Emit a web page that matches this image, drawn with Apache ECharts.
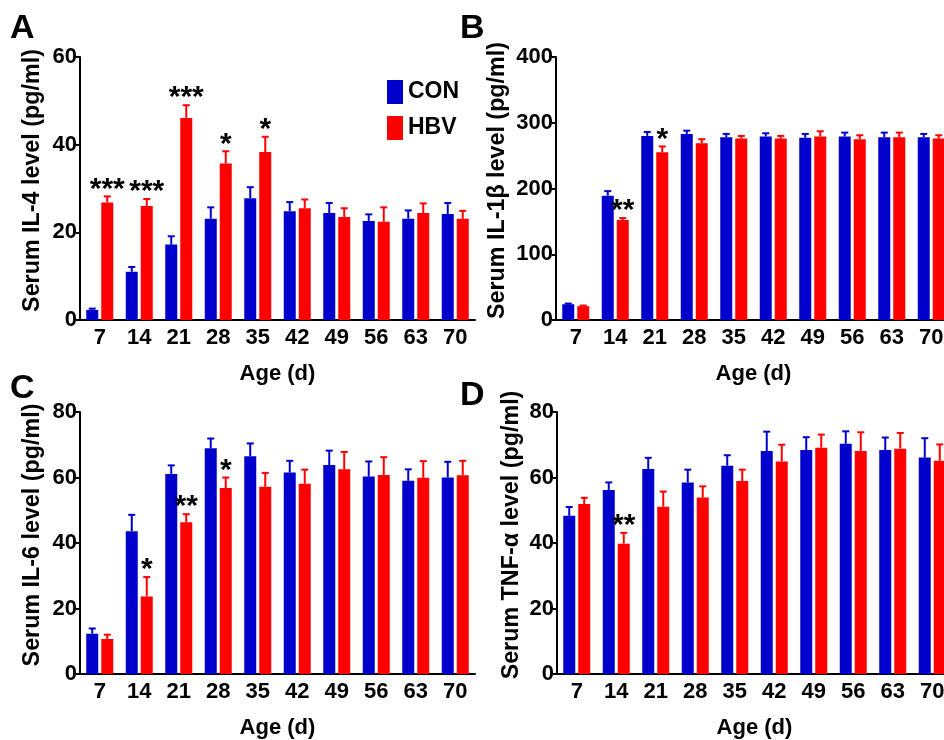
<!DOCTYPE html>
<html>
<head>
<meta charset="utf-8">
<title>Serum cytokines</title>
<script src="https://cdn.jsdelivr.net/npm/echarts@6/dist/echarts.min.js"></script>
<style>
  html, body { margin: 0; padding: 0; background: #fff; }
  #chart { width: 944px; height: 740px; }
</style>
</head>
<body>
<div id="chart"></div>
<script>
  // ages in days
  const ages = ['7', '14', '21', '28', '35', '42', '49', '56', '63', '70']

  // A: IL-4
  const il4Con = [2.3, 11.0, 17.2, 23.1, 27.8, 24.8, 24.4, 22.6, 23.1, 24.2]
  const il4ConSem = [0.3, 1.1, 1.9, 2.6, 2.5, 2.1, 2.3, 1.5, 1.9, 2.5]
  const il4Hbv = [26.8, 26.0, 46.1, 35.7, 38.3, 25.5, 23.5, 22.4, 24.4, 23.1]
  const il4HbvSem = [1.4, 1.6, 2.9, 2.8, 3.5, 2.0, 2.0, 3.3, 2.2, 1.8]
  const il4Sig = ['***', '***', '***', '*', '*', '', '', '', '', '']

  // B: IL-1beta
  const il1bCon = [24, 189, 280, 283, 278, 279, 277, 279, 278, 278]
  const il1bConSem = [1, 7, 6, 5, 5, 5, 6, 6, 7, 5]
  const il1bHbv = [21, 152, 255, 269, 276, 276, 279, 275, 278, 276]
  const il1bHbvSem = [1, 3, 9, 6, 4, 4, 8, 6, 7, 5]
  const il1bSig = ['', '**', '*', '', '', '', '', '', '', '']

  // C: IL-6
  const il6Con = [12.3, 43.6, 61.1, 68.9, 66.5, 61.5, 63.8, 60.3, 59.0, 60.0]
  const il6ConSem = [1.6, 5.0, 2.6, 3.0, 3.9, 3.6, 4.4, 4.6, 3.5, 4.8]
  const il6Hbv = [10.7, 23.7, 46.3, 56.8, 57.2, 58.1, 62.5, 60.8, 59.9, 60.7]
  const il6HbvSem = [1.3, 5.9, 2.5, 3.2, 4.2, 4.3, 5.3, 5.4, 5.1, 4.4]
  const il6Sig = ['', '*', '**', '*', '', '', '', '', '', '']

  // D: TNF-alpha
  const tnfCon = [48.3, 56.2, 62.6, 58.5, 63.6, 68.1, 68.4, 70.3, 68.4, 66.1]
  const tnfConSem = [2.7, 2.3, 3.4, 3.9, 3.2, 5.9, 3.9, 3.8, 3.8, 5.9]
  const tnfHbv = [51.9, 39.8, 51.1, 53.9, 58.9, 64.9, 69.1, 68.1, 68.8, 65.1]
  const tnfHbvSem = [1.9, 3.3, 4.6, 3.4, 3.5, 5.1, 4.0, 5.7, 4.8, 5.0]
  const tnfSig = ['', '**', '', '', '', '', '', '', '', '']

  const FONT = 'Liberation Sans, Arial, Helvetica, sans-serif'
  const BLUE = '#0000cc'
  const RED = '#ff0000'
  const BAR_W = 12
  const BAR_SHIFT = 7.5

  const panels = [
    { letter: 'A', grid: { left: 80, top: 57, width: 395, height: 263 }, max: 60, interval: 20,
      title: 'Serum IL-4 level (pg/ml)', nameGap: 36,
      con: il4Con, conSem: il4ConSem, hbv: il4Hbv, hbvSem: il4HbvSem, sig: il4Sig },
    { letter: 'B', grid: { left: 556, top: 57, width: 395, height: 263 }, max: 400, interval: 100,
      title: 'Serum IL-1\u03b2 level (pg/ml)', nameGap: 47,
      con: il1bCon, conSem: il1bConSem, hbv: il1bHbv, hbvSem: il1bHbvSem, sig: il1bSig },
    { letter: 'C', grid: { left: 80, top: 412, width: 395, height: 262 }, max: 80, interval: 20,
      title: 'Serum IL-6 level (pg/ml)', nameGap: 36,
      con: il6Con, conSem: il6ConSem, hbv: il6Hbv, hbvSem: il6HbvSem, sig: il6Sig },
    { letter: 'D', grid: { left: 557, top: 412, width: 395, height: 262 }, max: 80, interval: 20,
      title: 'Serum TNF-\u03b1 level (pg/ml)', nameGap: 34,
      con: tnfCon, conSem: tnfConSem, hbv: tnfHbv, hbvSem: tnfHbvSem, sig: tnfSig }
  ]

  const letterPos = { A: [10, 12], B: [460, 12], C: [10, 372], D: [460, 379] }

  function errorSeries(idx, name, means, sems, color, shift, sig) {
    return {
      type: 'custom',
      name: name,
      xAxisIndex: idx,
      yAxisIndex: idx,
      z: 3,
      data: means.map((m, i) => [i, m, sems[i]]),
      renderItem(params, api) {
        const base = api.coord([api.value(0), api.value(1)])
        const top = api.coord([api.value(0), api.value(1) + api.value(2)])
        const x = base[0] + shift
        const children = [
          { type: 'line', shape: { x1: x, y1: base[1], x2: x, y2: top[1] },
            style: { stroke: color, lineWidth: 2 } },
          { type: 'line', shape: { x1: x - 3.5, y1: top[1], x2: x + 3.5, y2: top[1] },
            style: { stroke: color, lineWidth: 2 } }
        ]
        const s = sig ? sig[params.dataIndex] : ''
        if (s) {
          children.push({
            type: 'text',
            style: { text: s, x: x, y: top[1] - 7, align: 'center', verticalAlign: 'middle',
              fontSize: 30, fontWeight: 'bold', fontFamily: FONT, fill: '#000' }
          })
        }
        return { type: 'group', children: children }
      }
    }
  }

  const chart = echarts.init(document.getElementById('chart'))

  const option = {
    backgroundColor: '#fff',
    animation: false,
    textStyle: { fontFamily: FONT },
    legend: {
      data: ['CON', 'HBV'],
      orient: 'vertical',
      left: 382,
      top: 75,
      icon: 'rect',
      itemWidth: 16,
      itemHeight: 24,
      itemGap: 12,
      selectedMode: false,
      textStyle: { fontSize: 23, fontWeight: 'bold', color: '#000', fontFamily: FONT }
    },
    graphic: panels.map(p => ({
      type: 'text',
      left: letterPos[p.letter][0],
      top: letterPos[p.letter][1],
      style: { text: p.letter, fontSize: 34, fontWeight: 'bold', fontFamily: FONT, fill: '#000' }
    })),
    grid: panels.map(p => Object.assign({ outerBoundsMode: 'none', containLabel: false }, p.grid)),
    xAxis: panels.map((p, i) => ({
      type: 'category',
      gridIndex: i,
      data: ages,
      name: 'Age (d)',
      nameLocation: 'middle',
      nameGap: 43,
      nameTextStyle: { fontSize: 22, fontWeight: 'bold', color: '#000', fontFamily: FONT },
      axisLine: { lineStyle: { color: '#000', width: 2 } },
      axisTick: { alignWithLabel: true, length: 5, lineStyle: { color: '#000', width: 2 } },
      axisLabel: { fontSize: 22, fontWeight: 'bold', color: '#000', margin: 7, fontFamily: FONT },
      splitLine: { show: false }
    })),
    yAxis: panels.map((p, i) => ({
      type: 'value',
      gridIndex: i,
      min: 0,
      max: p.max,
      interval: p.interval,
      name: p.title,
      nameLocation: 'middle',
      nameGap: p.nameGap,
      nameTextStyle: { fontSize: 23.3, fontWeight: 'bold', color: '#000', fontFamily: FONT,
        padding: [0, 0, 0, 16] },
      axisLine: { show: true, lineStyle: { color: '#000', width: 2 } },
      axisTick: { show: true, length: 4, lineStyle: { color: '#000', width: 2 } },
      axisLabel: { fontSize: 22, fontWeight: 'bold', color: '#000', margin: 3, fontFamily: FONT },
      splitLine: { show: false }
    })),
    series: []
  }

  panels.forEach((p, i) => {
    option.series.push(
      { type: 'bar', name: 'CON', xAxisIndex: i, yAxisIndex: i, data: p.con,
        barWidth: BAR_W, barGap: '25%', itemStyle: { color: BLUE } },
      { type: 'bar', name: 'HBV', xAxisIndex: i, yAxisIndex: i, data: p.hbv,
        barWidth: BAR_W, barGap: '25%', itemStyle: { color: RED } },
      errorSeries(i, 'CON', p.con, p.conSem, BLUE, -BAR_SHIFT, null),
      errorSeries(i, 'HBV', p.hbv, p.hbvSem, RED, BAR_SHIFT, p.sig)
    )
  })

  chart.setOption(option)
</script>
</body>
</html>
